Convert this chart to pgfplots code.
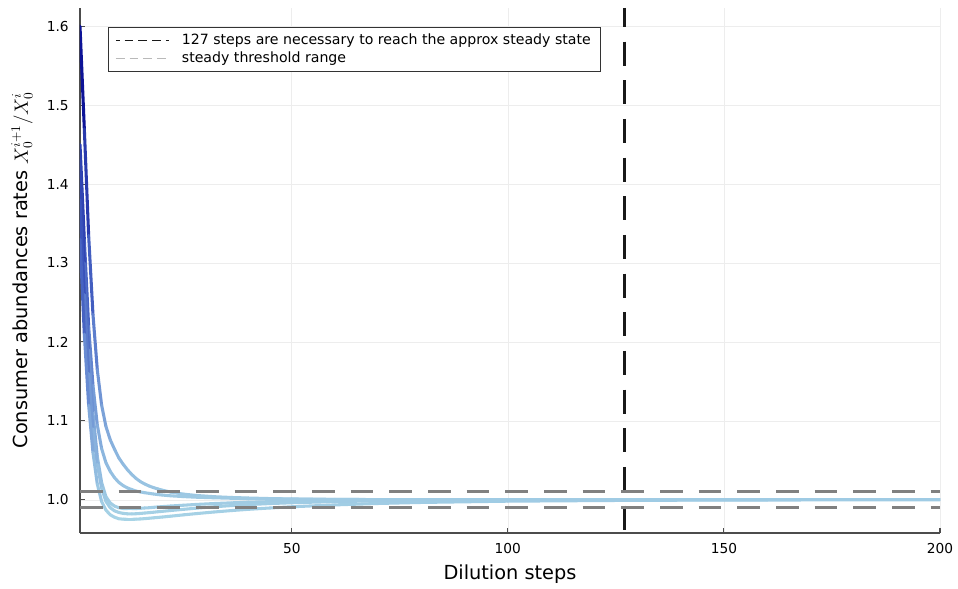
\documentclass[border=0pt]{standalone}
\usepackage{fontspec}
\setmainfont{DejaVu Sans}
\usepackage{pgfplots}
\usepackage{pgfplotstable}
\pgfplotsset{compat=1.18}

% ratio of consumer abundances per dilution step, five runs
\pgfplotstableread{
x   A       B       C       D       E
1   1.600   1.450   1.430   1.380   1.330
2   1.470   1.330   1.300   1.260   1.210
3   1.335   1.220   1.190   1.160   1.120
4   1.235   1.145   1.110   1.090   1.060
5   1.165   1.095   1.055   1.045   1.020
6   1.120   1.065   1.022   1.015   0.998
7   1.093   1.047   1.004   0.998   0.987
8   1.076   1.036   0.996   0.990   0.981
9   1.064   1.028   0.992   0.986   0.978
10  1.053   1.022   0.990   0.984   0.976
11  1.045   1.018   0.989   0.9828  0.9755
12  1.038   1.015   0.9888  0.9823  0.9753
13  1.032   1.013   0.9888  0.9822  0.9753
14  1.027   1.011   0.989   0.9824  0.9755
15  1.023   1.010   0.9893  0.9828  0.9758
16  1.020   1.009   0.9897  0.9833  0.9762
17  1.0175  1.0082  0.990   0.9838  0.9767
18  1.0155  1.0074  0.9905  0.9843  0.9772
19  1.0138  1.0067  0.991   0.9849  0.9777
20  1.0123  1.0061  0.9914  0.9854  0.9782
22  1.0098  1.0051  0.9922  0.9865  0.9793
25  1.0072  1.0041  0.9932  0.988   0.981
28  1.0055  1.0033  0.9942  0.9895  0.9826
32  1.0040  1.0026  0.9953  0.9912  0.9846
36  1.0030  1.0020  0.9962  0.9927  0.9864
40  1.0023  1.0016  0.997   0.994   0.988
45  1.0016  1.0012  0.9977  0.9953  0.9897
50  1.0011  1.0009  0.9983  0.9963  0.9912
60  1.0006  1.0005  0.9991  0.9978  0.9936
70  1.0003  1.0003  0.9995  0.9987  0.9954
80  1.0002  1.0002  0.9997  0.9992  0.9967
100 1.0001  1.0001  0.9999  0.9997  0.9983
130 1.0     1.0     1.0     0.9999  0.9994
160 1.0     1.0     1.0     1.0     0.9998
200 1.0     1.0     1.0     1.0     1.0
}\curves

\begin{document}
\begin{tikzpicture}
\useasboundingbox (-60pt,-42pt) rectangle (658.5pt,399.75pt);
\begin{axis}[
    scale only axis,
    width=645pt, height=393.75pt,
    xmin=1, xmax=200, ymin=0.958, ymax=1.623,
    xtick={50,100,150,200},
    ytick={1.0,1.1,1.2,1.3,1.4,1.5,1.6},
    /pgf/number format/assume math mode=true,
    axis x line*=bottom, axis y line*=left,
    axis line style={-, draw=black!70, line width=0.9pt},
    tick align=inside, major tick length=4pt,
    tick style={black!70, line width=0.8pt},
    grid=major, major grid style={black!7, line width=0.5pt},
    tick label style={font=\fontsize{10.3}{12}\selectfont},
    xticklabel style={yshift=-4pt},
    yticklabel style={xshift=-5pt, /pgf/number format/.cd, fixed, fixed zerofill, precision=1},
    label style={font=\fontsize{14.5}{17}\selectfont},
    xlabel={Dilution steps},
    ylabel={Consumer abundances rates $X_0^{i+1}/X_0^{i}$},
    xlabel style={at={(axis description cs:0.5,-0.0781)}, anchor=center},
    ylabel style={at={(axis description cs:-0.0674,0.5)}, anchor=center},
    colormap={bluefade}{rgb255(0cm)=(168,212,230) rgb255(1.2cm)=(142,184,223)
        rgb255(3cm)=(105,140,210) rgb255(5.2cm)=(62,88,190) rgb255(10cm)=(0,0,140)},
    point meta min=0.975, point meta max=1.6,
    legend image code/.code={\draw[#1, line width=1pt, dash pattern=on 6.5pt off 3.8pt] (0pt,0pt) -- (40pt,0pt);},
    legend style={at={(0.0326,0.964)}, anchor=north west, draw=black!80,
        line width=0.8pt, font=\fontsize{10.6}{11}\selectfont,
        inner xsep=5pt, inner ysep=3pt, cells={anchor=west},
        /tikz/every odd column/.append style={column sep=7pt}},
]
\foreach \col in {A,B,C,D,E} {
    \addplot[mesh, line width=2.3pt, line cap=round, point meta=y, forget plot]
        table[x=x, y=\col] {\curves};
}
\addplot[black!90, line width=1.8pt, dash pattern=on 18pt off 11pt, dash phase=3.75pt]
    coordinates {(127,1.623) (127,0.958)};
\addlegendentry{127 steps are necessary to reach the approx steady state}
\addplot[gray, line width=2.3pt, dash pattern=on 17pt off 12pt,
    legend image post style={gray!55}]
    coordinates {(1,1.01) (200,1.01)};
\addlegendentry{steady threshold range}
\addplot[gray, line width=2.3pt, dash pattern=on 17pt off 12pt, forget plot]
    coordinates {(1,0.99) (200,0.99)};
\end{axis}
\end{tikzpicture}
\end{document}
